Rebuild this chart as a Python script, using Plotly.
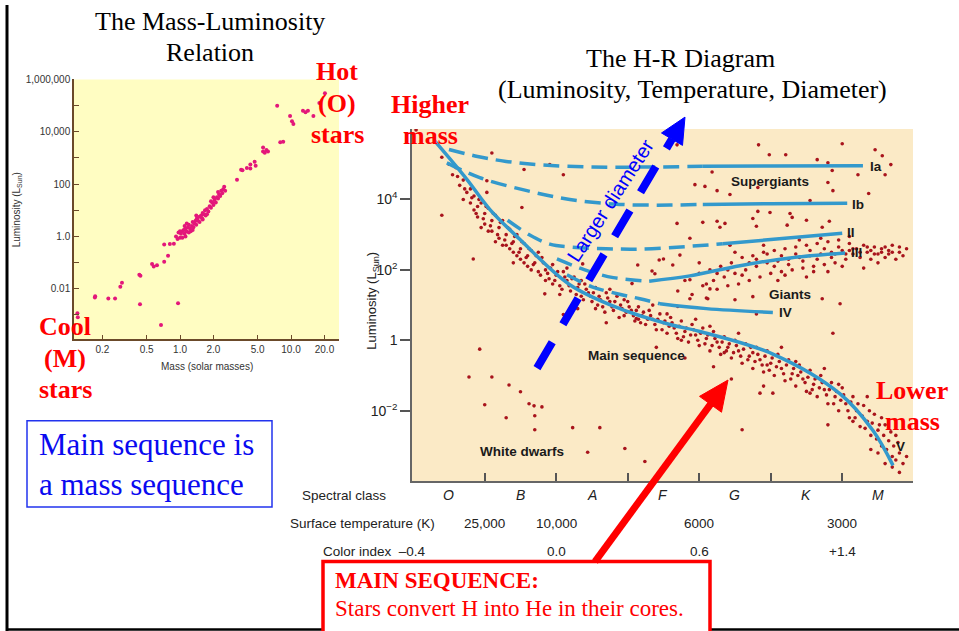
import plotly.graph_objects as go

W, H = 959, 631
def px(x): return x / W
def py(y): return 1 - y / H

# ---------------- Mass-Luminosity data (mass in M_sun, log10 L in L_sun) ----------------
ml_mass = [0.119, 0.12, 0.171, 0.172, 0.226, 0.26, 0.29, 0.30, 0.43, 0.44, 0.436, 0.56, 0.58, 0.62,
           0.674, 0.72, 0.72, 0.78, 0.81, 0.88, 0.96,
           0.92, 0.95, 0.97, 1.0, 1.02, 1.05, 1.05, 1.08, 1.1, 1.12, 1.12, 1.15, 1.18, 1.2, 1.2, 1.23,
           1.25, 1.28, 1.3, 1.32, 1.35, 1.38, 1.4, 1.42, 1.45, 1.5, 1.5, 1.55, 1.58, 1.6, 1.65, 1.68,
           1.7, 1.75, 1.8, 1.85, 1.9, 1.95, 2.0, 2.05, 2.1, 2.15, 2.2, 2.25, 2.3, 2.35, 2.4, 2.45, 2.5,
           2.55, 1.15, 1.3, 1.6, 1.9, 2.2, 1.1, 1.0, 1.4, 1.75, 2.0,
           3.26, 3.55, 3.65, 4.0, 4.3, 4.3, 4.7, 4.8, 5.6, 5.8, 6.0, 6.2, 5.6, 7.5, 8.0, 8.5, 9.8,
           10.2, 10.5, 12.8, 13.5, 14.2, 15.9, 18.0, 20.2]
ml_loglum = [-2.93, -3.09, -2.33, -2.28, -2.37, -2.37, -1.92, -1.77, -1.46, -1.5, -2.59, -1.05, -1.15, -1.1,
             -3.38, -0.31, -0.97, -0.74, -0.29, -0.28, -2.55,
             0.0, -0.1, 0.15, -0.05, 0.1, 0.2, -0.05, 0.25, 0.1, 0.3, 0.0, 0.2, 0.35, 0.15, 0.45, 0.3,
             0.2, 0.4, 0.55, 0.35, 0.5, 0.6, 0.45, 0.7, 0.6, 0.75, 0.55, 0.8, 0.7, 0.9, 0.85, 1.0,
             0.8, 1.05, 0.95, 1.15, 1.1, 1.3, 1.2, 1.4, 1.3, 1.5, 1.45, 1.6, 1.55, 1.75, 1.65, 1.8, 1.9,
             1.75, 0.5, 0.25, 0.65, 1.35, 1.7, 0.4, 0.2, 0.8, 0.85, 1.5,
             2.17, 2.55, 2.53, 2.62, 2.75, 2.6, 2.85, 2.7, 3.25, 3.2, 3.3, 3.25, 3.4, 4.99, 3.6, 3.62, 4.6,
             4.4, 4.3, 4.8, 4.75, 4.8, 4.6, 5.1, 5.47]
ml_xticks = [0.2, 0.5, 1, 2, 5, 10, 20]
ml_xticktext = ["0.2", "0.5", "1.0", "2.0", "5.0", "10.0", "20.0"]
ml_yticks = [1e6, 1e4, 1e2, 1, 0.01]
ml_yticktext = ["1,000,000", "10,000", "100", "1.0", "0.01"]

# ---------------- H-R diagram data (x: spectral class position O=0 ... M=6, log10 L) ----------------
hr_main_seq = [
    (-0.1, 5.2), (0.0, 5.0), (0.05, 4.7), (0.1, 4.9), (0.15, 4.4), (0.2, 4.55), (0.2, 4.0), (0.25, 4.2), (0.3, 4.3), (0.3, 3.9),
    (0.35, 4.1), (0.35, 3.7), (0.4, 3.8), (0.4, 3.5), (0.45, 3.9), (0.45, 3.2), (0.5, 3.6), (0.5, 3.3), (0.55, 3.75), (0.55, 3.1),
    (0.6, 3.4), (0.6, 3.1), (0.65, 3.55), (0.65, 2.8), (0.7, 3.2), (0.7, 2.9), (0.75, 3.4), (0.75, 2.7), (0.8, 3.0), (0.8, 2.7),
    (0.85, 3.15), (0.85, 2.6), (0.9, 2.8), (0.9, 2.5), (0.9, 2.2), (0.95, 3.0), (0.95, 2.4), (1.0, 2.6), (1.0, 2.3), (1.05, 2.75),
    (1.05, 2.2), (1.1, 2.4), (1.1, 2.1), (1.15, 2.55), (1.15, 2.0), (1.2, 2.2), (1.25, 1.95), (1.25, 2.5), (1.3, 2.35), (1.35, 2.0),
    (1.35, 1.7), (1.4, 1.75), (1.45, 2.15), (1.45, 1.6), (1.5, 1.85), (1.55, 1.55), (1.55, 1.3), (1.6, 1.95), (1.65, 1.7), (1.65, 2.05),
    (1.7, 1.4), (1.75, 1.8), (1.8, 1.5), (1.8, 0.9), (1.85, 1.25), (1.85, 1.7), (1.9, 1.6), (1.95, 1.35), (2.0, 1.1), (2.05, 1.5),
    (2.05, 0.9), (2.1, 1.25), (2.15, 0.95), (2.2, 1.35), (2.2, 0.5), (2.25, 1.1), (2.25, 1.45), (2.3, 0.85), (2.35, 1.25), (2.4, 1.0),
    (2.45, 0.7), (2.45, 1.15), (2.5, 1.1), (2.55, 0.85), (2.6, 0.55), (2.65, 0.95), (2.65, 0.6), (2.7, 0.7), (2.75, 0.45), (2.8, 0.85),
    (2.85, 0.6), (2.85, 1.0), (2.9, 0.3), (2.9, -0.2), (2.95, 0.75), (3.0, 0.5), (3.05, 0.2), (3.05, 0.75), (3.1, 0.65), (3.15, 0.35),
    (3.2, 0.05), (3.25, 0.55), (3.25, 0.0), (3.3, 0.25), (3.3, -0.5), (3.35, -0.05), (3.4, 0.45), (3.45, 0.15), (3.45, 0.6), (3.5, -0.15),
    (3.55, 0.35), (3.6, 0.05), (3.65, -0.3), (3.65, 0.4), (3.7, 0.25), (3.7, -0.75), (3.75, -0.05), (3.8, -0.4), (3.85, 0.1), (3.85, -0.35),
    (3.9, -0.2), (3.95, -0.5), (3.95, -1.1), (4.0, 0.0), (4.05, -0.3), (4.05, 0.2), (4.1, -0.65), (4.15, -0.1), (4.2, -0.45), (4.25, -0.8),
    (4.25, -0.35), (4.3, -0.2), (4.35, -0.55), (4.35, -1.5), (4.4, -0.9), (4.4, -1.3), (4.45, -0.3), (4.45, -0.7), (4.5, -0.65), (4.53, -1.5),
    (4.55, -1.0), (4.6, -0.4), (4.65, -0.8), (4.65, -0.2), (4.7, -1.15), (4.75, -0.55), (4.8, -0.95), (4.85, -1.3), (4.85, -0.6), (4.9, -0.7),
    (4.95, -1.1), (5.0, -1.45), (5.05, -0.85), (5.05, -1.5), (5.1, -1.25), (5.15, -1.6), (5.2, -1.0), (5.25, -1.4), (5.25, -0.8), (5.3, -1.8),
    (5.3, -2.4), (5.35, -1.2), (5.4, -1.6), (5.45, -2.0), (5.45, -1.25), (5.5, -1.35), (5.55, -1.8), (5.6, -2.2), (5.65, -1.6), (5.65, -2.3),
    (5.7, -2.0), (5.75, -2.45), (5.8, -1.85), (5.85, -2.3), (5.85, -1.6), (5.9, -2.7), (5.9, -3.1), (5.95, -2.1), (6.0, -2.55), (6.0, -3.2),
    (6.05, -3.0), (6.05, -2.2), (6.1, -2.4), (6.1, -3.5), (6.15, -2.85), (6.2, -3.3), (6.25, -2.7), (6.25, -3.4), (6.3, -3.2), (6.3, -3.75),
]
hr_main_seq_dense = [
    (0.12, 4.65), (0.22, 4.3), (0.32, 4.05), (0.38, 3.6), (0.42, 4.0), (0.48, 3.45), (0.52, 3.8), (0.58, 3.25), (0.62, 3.6), (0.68, 3.0),
    (0.72, 3.35), (0.78, 2.85), (0.82, 3.2), (0.88, 2.75), (0.92, 2.95), (0.98, 2.5), (1.02, 2.8), (1.08, 2.35), (1.12, 2.6), (1.18, 2.15),
    (1.22, 2.4), (1.28, 1.85), (1.32, 2.2), (1.38, 1.9), (1.42, 2.05), (1.48, 1.7), (1.52, 1.95), (1.58, 1.45), (1.62, 1.8), (1.68, 1.55),
    (1.72, 1.75), (1.78, 1.3), (1.82, 1.6), (1.88, 1.15), (1.92, 1.45), (1.98, 1.25), (2.02, 1.35), (2.08, 1.0), (2.12, 1.15), (2.18, 0.8),
    (2.22, 1.2), (2.28, 0.95), (2.32, 1.1), (2.38, 0.65), (2.42, 0.9), (2.48, 0.8), (2.52, 0.95), (2.58, 0.7), (2.62, 0.85), (2.68, 0.5),
    (2.72, 0.8), (2.78, 0.6), (2.82, 0.7), (2.88, 0.45), (2.92, 0.6), (2.98, 0.3), (3.02, 0.55), (3.08, 0.4), (3.12, 0.5), (3.18, 0.2),
    (3.22, 0.4), (3.28, 0.1), (3.32, 0.35), (3.38, 0.15), (3.42, 0.3), (3.48, 0.0), (3.52, 0.2), (3.58, -0.1), (3.62, 0.15), (3.68, -0.15),
    (3.72, 0.05), (3.78, -0.2), (3.82, -0.05), (3.88, -0.3), (3.92, -0.1), (3.98, -0.35), (4.02, -0.15), (4.08, -0.45), (4.12, -0.25), (4.18, -0.55),
    (4.22, -0.2), (4.28, -0.6), (4.32, -0.4), (4.38, -0.7), (4.42, -0.45), (4.48, -0.85), (4.52, -0.5), (4.58, -0.75), (4.62, -0.6), (4.68, -0.95),
    (4.72, -0.7), (4.78, -1.1), (4.82, -0.8), (4.88, -1.0), (4.92, -0.9), (4.98, -1.2), (5.02, -1.05), (5.08, -1.4), (5.12, -1.1), (5.18, -1.35),
    (5.22, -1.2), (5.28, -1.55), (5.32, -1.4), (5.38, -1.8), (5.42, -1.45), (5.48, -1.7), (5.52, -1.55), (5.58, -2.0), (5.62, -1.75), (5.68, -2.2),
    (5.72, -1.8), (5.78, -2.15), (5.82, -2.5), (5.88, -2.0), (5.92, -2.35), (5.98, -2.8), (6.02, -2.4), (6.08, -2.7), (6.12, -3.1), (6.18, -2.6),
    (6.22, -3.0), (6.28, -2.9), (6.35, -3.5), (6.2, -3.6), (6.4, -3.3),
]
hr_giants = [
    (3.2, 1.4), (3.3, 1.7), (3.4, 1.3), (3.5, 1.9), (3.55, 1.55), (3.6, 1.2), (3.65, 2.0), (3.7, 1.7), (3.75, 1.45), (3.8, 2.1),
    (3.85, 1.8), (3.9, 1.55), (3.95, 2.2), (4.0, 1.9), (4.05, 1.6), (4.1, 2.35), (4.15, 2.0), (4.2, 1.7), (4.25, 2.4), (4.3, 2.1),
    (4.35, 1.8), (4.4, 2.5), (4.45, 2.2), (4.5, 1.9), (4.55, 2.55), (4.6, 2.25), (4.65, 1.95), (4.7, 2.6), (4.75, 2.3), (4.8, 2.0),
    (4.85, 2.65), (4.9, 2.35), (4.95, 2.05), (5.0, 2.7), (5.05, 2.4), (5.1, 2.1), (5.15, 2.75), (5.2, 2.45), (5.25, 2.15), (5.3, 2.8),
    (5.35, 2.5), (5.4, 2.2), (5.45, 2.85), (5.5, 2.55), (5.55, 2.3), (5.6, 2.75), (5.65, 2.45), (5.7, 2.6), (5.75, 2.35), (5.8, 2.7),
    (5.85, 2.5), (5.9, 2.3), (5.95, 2.65), (6.0, 2.45), (6.05, 2.6), (6.1, 2.35), (6.15, 2.55), (6.2, 2.7), (6.3, 2.5), (6.4, 2.6),
    (4.4, 2.7), (4.9, 2.85), (5.2, 2.9), (5.6, 2.95), (4.0, 2.5), (3.5, 2.2), (4.6, 1.7), (5.0, 1.8), (5.3, 1.95), (5.8, 2.05),
    (6.25, 2.3), (5.22, 1.18), (5.47, 1.04), (5.37, 0.2), (4.3, 0.75), (4.0, 1.15), (4.25, 1.24), (3.62, 1.18), (3.37, 1.18), (3.2, 0.96),
    (3.37, 1.72), (3.65, 1.46), (3.13, 2.14), (2.84, 1.97), (3.0, 2.31), (3.23, 2.42), (2.64, 2.14), (2.88, 1.89), (2.94, 2.28), (2.56, 1.61),
    (2.62, 0.62), (1.87, 2.17), (1.34, 1.32), (1.6, 0.73), (0.34, 2.31), (-0.1, 3.55), (3.93, 2.7), (3.37, 2.9),
    (4.45, 2.45), (4.55, 2.1), (4.65, 2.4), (4.75, 2.15), (4.85, 2.45), (4.95, 2.25), (5.05, 2.55), (5.15, 2.3), (5.25, 2.6), (5.35, 2.35),
    (5.45, 2.65), (5.55, 2.45), (5.65, 2.6), (5.75, 2.5), (5.85, 2.65), (5.95, 2.45), (6.05, 2.5), (6.15, 2.45), (6.3, 2.65), (6.35, 2.4),
    (4.3, 2.3), (4.2, 2.2), (4.1, 1.85), (3.9, 2.0), (3.75, 1.9), (3.6, 1.6), (4.7, 1.85), (5.1, 1.95), (5.5, 2.1), (6.0, 2.2),
    (5.4, 2.45), (5.6, 2.55), (5.9, 2.55), (6.1, 2.65), (6.2, 2.5),
]
hr_supergiants = [
    (-0.46, 5.97), (0.6, 5.32), (1.41, 4.99), (1.6, 4.7), (1.05, 4.85), (0.53, 4.53), (0.53, 4.2), (1.02, 3.77),
    (3.19, 5.55), (4.33, 5.55), (4.48, 5.27), (4.71, 5.27), (5.5, 5.58), (5.96, 5.41), (6.06, 5.24), (6.18, 4.99),
    (6.1, 4.7), (5.72, 4.7), (5.15, 5.13), (5.3, 5.04), (5.36, 4.82), (3.68, 4.78), (3.44, 4.42), (3.58, 4.37),
    (3.75, 4.25), (3.93, 4.14), (4.32, 4.34), (5.3, 4.48), (5.37, 4.25), (5.87, 4.17), (5.05, 3.97), (4.32, 3.66),
    (4.49, 3.63), (4.25, 3.46), (4.77, 3.6), (4.8, 3.49), (3.19, 3.32), (3.55, 3.35), (3.75, 3.38), (3.86, 3.32),
    (3.79, 3.21), (4.3, 3.24), (4.73, 3.27), (5.0, 3.41), (5.22, 3.21), (5.32, 3.38),
]
hr_white_dwarfs = [
    (0.28, -1.04), (0.6, -1.04), (0.84, -1.27), (1.0, -1.46), (0.5, -1.83), (1.12, -1.8), (1.19, -1.86), (1.3, -1.89),
    (0.8, -2.2), (1.2, -2.14), (1.2, -2.54), (1.73, -2.48), (2.11, -2.48), (1.94, -3.18), (2.46, -3.07), (2.74, -3.44),
    (0.43, -0.25), (4.1, -2.54),
]
# luminosity-class lines: (points, number of points in the dashed part)
lum_lines = {
    "Ia":  ([(0.0, 5.42), (0.4, 5.22), (0.8, 5.08), (1.3, 4.98), (2.0, 4.92), (2.8, 4.92), (3.55, 4.94), (4.5, 4.95), (5.79, 4.96)], 7),
    "Ib":  ([(-0.03, 5.04), (0.43, 4.62), (1.09, 4.25), (1.69, 4.0), (2.39, 3.86), (3.09, 3.84), (3.55, 3.86), (4.5, 3.88), (5.57, 3.89)], 7),
    "II":  ([(0.82, 3.41), (1.13, 2.99), (1.41, 2.73), (1.69, 2.65), (2.2, 2.6), (2.67, 2.59), (3.3, 2.66), (3.83, 2.74), (4.5, 2.86), (5.5, 3.04)], 8),
    "III": ([(1.51, 2.31), (1.9, 2.0), (2.3, 1.78), (2.8, 1.68), (3.37, 1.83), (4.07, 2.12), (4.77, 2.34), (5.54, 2.48)], 4),
    "IV":  ([(1.65, 1.86), (2.0, 1.52), (2.4, 1.3), (2.67, 1.18), (2.95, 1.04), (3.6, 0.9), (4.53, 0.79)], 5),
    "V":   ([(-0.2, 5.66), (0.25, 4.57), (0.57, 3.72), (0.99, 2.87), (1.69, 1.58), (2.39, 0.9), (3.09, 0.45),
             (3.51, 0.25), (4.53, -0.39), (5.47, -1.52), (5.93, -2.56), (6.21, -3.55)], 0),
}
spectral_classes = ["O", "B", "A", "F", "G", "K", "M"]
temp_labels = [(0.5, "25,000"), (1.5, "10,000"), (3.5, "6000"), (5.5, "3000")]
color_labels = [(1.5, "0.0"), (3.5, "0.6"), (5.5, "+1.4")]
hr_yticks = [1e4, 1e2, 1, 1e-2]
hr_yticktext = ["10<sup>4</sup>", "10<sup>2</sup>", "1", "10<sup>\u22122</sup>"]

SANS = "Liberation Sans"
SERIF = "Liberation Serif"
LINE_BLUE = "#3399CC"
DOT_RED = "#A8141C"
RED = "#FF0000"

fig = go.Figure()

# mass-luminosity points
fig.add_trace(go.Scatter(x=ml_mass, y=[10 ** v for v in ml_loglum], mode="markers",
                         marker=dict(size=4, color="#E3177A"), xaxis="x", yaxis="y",
                         hoverinfo="skip", showlegend=False))

# H-R dots
for grp in (hr_main_seq, hr_main_seq_dense, hr_giants, hr_supergiants, hr_white_dwarfs):
    fig.add_trace(go.Scatter(x=[p[0] for p in grp], y=[10 ** p[1] for p in grp], mode="markers",
                             marker=dict(size=3.6, color=DOT_RED), xaxis="x2", yaxis="y2",
                             hoverinfo="skip", showlegend=False))

# luminosity class lines
for name, (pts, nd) in lum_lines.items():
    if nd > 0:
        seg = pts[:nd]
        fig.add_trace(go.Scatter(x=[p[0] for p in seg], y=[10 ** p[1] for p in seg], mode="lines",
                                 line=dict(color=LINE_BLUE, width=3.5, dash="16px,8px", shape="spline"),
                                 xaxis="x2", yaxis="y2", hoverinfo="skip", showlegend=False))
    seg = pts[max(nd - 1, 0):]
    fig.add_trace(go.Scatter(x=[p[0] for p in seg], y=[10 ** p[1] for p in seg], mode="lines",
                             line=dict(color=LINE_BLUE, width=3.5, shape="spline"),
                             xaxis="x2", yaxis="y2", hoverinfo="skip", showlegend=False))

fig.update_layout(
    width=W, height=H, margin=dict(l=0, r=0, t=0, b=0),
    paper_bgcolor="white", plot_bgcolor="rgba(0,0,0,0)", showlegend=False,
    xaxis=dict(type="log", range=[-0.955, 1.432], domain=[px(74), px(339)], anchor="y",
               tickvals=ml_xticks, ticktext=ml_xticktext, ticks="inside", ticklen=5,
               tickcolor="#6b4a2a", showline=True, linecolor="#6b4a2a", linewidth=1.5,
               showgrid=False, zeroline=False, tickfont=dict(family=SANS, size=10, color="#333")),
    yaxis=dict(type="log", range=[-3.93, 6], domain=[py(337), py(75)], anchor="x",
               tickvals=ml_yticks, ticktext=ml_yticktext, ticks="inside", ticklen=5,
               tickcolor="#6b4a2a", showline=True, linecolor="#6b4a2a", linewidth=1.5,
               minor=dict(tickvals=[1e5, 1e3, 10, 0.1, 0.001], ticks="inside", ticklen=5, tickcolor="#6b4a2a"),
               showgrid=False, zeroline=False, tickfont=dict(family=SANS, size=10, color="#333")),
    xaxis2=dict(range=[-0.517, 6.49], domain=[px(412), px(913)], anchor="y2",
                tickvals=[0.5, 1.5, 2.5, 3.5, 4.5, 5.5], showticklabels=False, ticks="inside", ticklen=8,
                tickwidth=1.5, tickcolor="#555", showline=True, linecolor="#666", linewidth=1.5,
                showgrid=False, zeroline=False),
    yaxis2=dict(type="log", range=[-4, 6], domain=[py(480), py(125)], anchor="x2",
                tickvals=hr_yticks, ticktext=hr_yticktext, ticks="outside", ticklen=10, tickwidth=1.5,
                tickcolor="#555", showline=True, linecolor="#666", linewidth=1.5,
                showgrid=False, zeroline=False, tickfont=dict(family=SANS, size=14, color="#222")),
)

shapes = [
    dict(type="rect", xref="x domain", yref="y domain", x0=0, x1=1, y0=0, y1=1,
         fillcolor="#FFFDC2", line=dict(width=0), layer="below"),
    dict(type="rect", xref="x2 domain", yref="y2 domain", x0=0, x1=1, y0=0, y1=1,
         fillcolor="#FBEAC6", line=dict(width=0), layer="below"),
    # slide frame
    dict(type="line", xref="paper", yref="paper", x0=px(7), x1=px(7), y0=0, y1=1,
         line=dict(color="black", width=3)),
    dict(type="line", xref="paper", yref="paper", x0=px(7), x1=1, y0=py(629.5), y1=py(629.5),
         line=dict(color="black", width=2.5)),
    # blue text box
    dict(type="rect", xref="paper", yref="paper", x0=px(27), x1=px(272), y0=py(506), y1=py(419),
         line=dict(color="#2233EE", width=1.5), fillcolor="rgba(0,0,0,0)"),
    # red text box
    dict(type="rect", xref="paper", yref="paper", x0=px(323), x1=px(710), y0=py(640), y1=py(561),
         line=dict(color=RED, width=3.5), fillcolor="white"),
    # blue dashed arrow shaft
    dict(type="line", xref="paper", yref="paper", x0=px(537), y0=py(366), x1=px(672), y1=py(135),
         line=dict(color="#0000FF", width=8, dash="30px,21px")),
    # blue arrow head
    dict(type="path", xref="paper", yref="paper",
         path=f"M {px(685)},{py(113)} L {px(682.5)},{py(141.5)} L {px(661.5)},{py(129)} Z",
         fillcolor="#0000FF", line=dict(color="#0000FF", width=1)),
    # red arrow shaft
    dict(type="line", xref="paper", yref="paper", x0=px(595), y0=py(561), x1=px(713), y1=py(399),
         line=dict(color=RED, width=7)),
    # red arrow head
    dict(type="path", xref="paper", yref="paper",
         path=f"M {px(728)},{py(378)} L {px(721.5)},{py(410.5)} L {px(699.5)},{py(394.5)} Z",
         fillcolor=RED, line=dict(color=RED, width=1)),
]
fig.update_layout(shapes=shapes)

anns = []
def ann(text, x, y, size, color="black", family=SERIF, xanchor="center", angle=0, xref="paper"):
    anns.append(dict(text=text, x=x if xref != "paper" else px(x), y=py(y), xref=xref, yref="paper",
                     showarrow=False, xanchor=xanchor, yanchor="middle", textangle=angle,
                     font=dict(family=family, size=size, color=color)))

# titles
ann("The Mass-Luminosity", 210, 17, 26)
ann("Relation", 210, 48, 26)
ann("The H-R Diagram", 680, 54, 26)
ann("(Luminosity, Temperature, Diameter)", 692, 85, 26)
# red labels
for t, y in (("<b>Hot</b>", 67), ("<b>(O)</b>", 99), ("<b>stars</b>", 131)):
    ann(t, 337, y, 26, RED)
for t, y in (("<b>Cool</b>", 324), ("<b>(M)</b>", 356), ("<b>stars</b>", 388)):
    ann(t, 65, y, 26, RED)
ann("<b>Higher</b>", 430, 100, 26, RED)
ann("<b>mass</b>", 430, 132, 26, RED)
ann("<b>Lower</b>", 912, 389, 26, RED)
ann("<b>mass</b>", 912, 420, 26, RED)
# blue box text
ann("Main sequence is", 37, 443, 31, "#0A0AF0", xanchor="left")
ann("a mass sequence", 37, 483, 31, "#0A0AF0", xanchor="left")
# red box text
ann("<b>MAIN SEQUENCE:</b>", 333, 580, 23, RED, xanchor="left")
ann("Stars convert H into He in their cores.", 333, 608, 23, RED, xanchor="left")
# mass-luminosity axis titles
ann("Luminosity (L<sub>Sun</sub>)", 17, 207, 10, "#333", SANS, angle=-90)
ann("Mass (solar masses)", 207, 364, 10, "#333", SANS)
# H-R axis title & rows
ann("Luminosity (L<sub>Sun</sub>)", 373, 298, 13, "#222", SANS, angle=-90)
ann("Spectral class", 388, 494, 13.5, "#222", SANS, xanchor="right")
ann("Surface temperature (K)", 437, 523, 13.5, "#222", SANS, xanchor="right")
ann("Color index  \u20130.4", 428, 551, 13.5, "#222", SANS, xanchor="right")
for i, c in enumerate(spectral_classes):
    ann(f"<i>{c}</i>", i, 494, 14, "#222", SANS, xref="x2")
for xv, t in temp_labels:
    ann(t, xv, 523, 13.5, "#222", SANS, xref="x2")
for xv, t in color_labels:
    ann(t, xv, 551, 13.5, "#222", SANS, xref="x2")
# H-R region labels
for t, x, y, anc in (("Supergiants", 770, 178, "center"), ("Giants", 790, 292, "center"),
                     ("Main sequence", 636, 353, "center"), ("White dwarfs", 522, 450, "center"),
                     ("Ia", 868, 163, "left"), ("Ib", 850, 201, "left"), ("II", 845, 229, "left"),
                     ("III", 849, 249, "left"), ("IV", 777, 310, "left"), ("V", 894, 445, "left")):
    ann(f"<b>{t}</b>", x, y, 13.5, "#1a1a1a", SANS, xanchor=anc)
# Larger diameter text
ann("Larger diameter", 611, 197, 20, "#0000FF", SANS, angle=-57)

fig.update_layout(annotations=anns)

fig.write_html("out.html")
